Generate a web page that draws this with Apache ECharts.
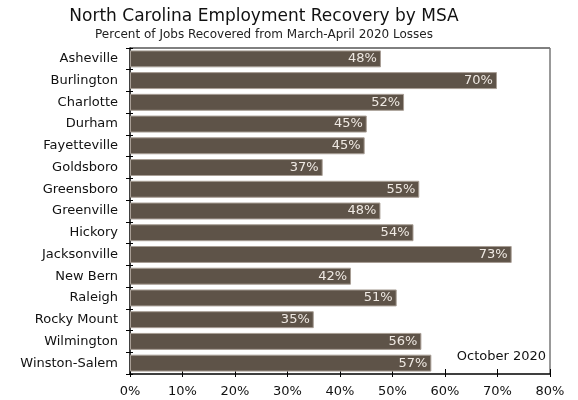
<!DOCTYPE html>
<html>
<head>
<meta charset="utf-8">
<script src="https://cdn.jsdelivr.net/npm/echarts@6/dist/echarts.min.js"></script>
<style>
  html, body { margin: 0; padding: 0; background: #ffffff; }
  #chart { width: 578px; height: 400px; }
</style>
</head>
<body>
<div id="chart"></div>
<script>
// metro areas, top to bottom
var msaNames = ['Asheville', 'Burlington', 'Charlotte', 'Durham', 'Fayetteville', 'Goldsboro',
  'Greensboro', 'Greenville', 'Hickory', 'Jacksonville', 'New Bern', 'Raleigh',
  'Rocky Mount', 'Wilmington', 'Winston-Salem'];
// share of March-April 2020 job losses recovered, percent
var recovered = [47.8, 69.9, 52.2, 45.1, 44.7, 36.7, 55.1, 47.7, 54.0, 72.7, 42.1, 50.8, 35.0, 55.5, 57.4];
var xTicks = [0, 10, 20, 30, 40, 50, 60, 70, 80];

var font = 'DejaVu Sans, Verdana, sans-serif';
var myChart = echarts.init(document.getElementById('chart'));

var xBase = {
  type: 'value',
  min: xTicks[0], max: xTicks[xTicks.length - 1], interval: 10,
  splitLine: { show: false }
};

myChart.setOption({
  animation: false,
  grid: { left: 130, right: 28, top: 48, bottom: 26 },
  xAxis: [
    Object.assign({}, xBase, {
      axisLine: { show: true, lineStyle: { color: '#000', width: 1.5 } },
      axisTick: { show: true, inside: true, length: 5, lineStyle: { color: '#000' } },
      axisLabel: {
        formatter: '{value}%', margin: 11,
        fontFamily: font, fontSize: 13, color: '#111'
      }
    }),
    // tick stubs below the axis line
    Object.assign({}, xBase, {
      position: 'bottom',
      axisLine: { show: false },
      axisTick: { show: true, length: 3, lineStyle: { color: '#000' } },
      axisLabel: { show: false }
    })
  ],
  yAxis: [
    {
      type: 'category',
      data: msaNames,
      inverse: true,
      axisLine: { show: true, lineStyle: { color: '#000', width: 1.5 } },
      axisTick: { show: true, length: 4, lineStyle: { color: '#000' } },
      axisLabel: { margin: 12, fontFamily: font, fontSize: 13, color: '#111' }
    },
    {
      type: 'category',
      data: msaNames,
      inverse: true,
      position: 'left',
      axisLine: { show: false },
      axisTick: { show: true, inside: true, length: 3, lineStyle: { color: '#000' } },
      axisLabel: { show: false }
    }
  ],
  graphic: [
    {
      type: 'text', x: 264, y: 8,
      style: {
        text: 'North Carolina Employment Recovery by MSA', align: 'center',
        fontFamily: font, fontSize: 17, fill: '#111'
      }
    },
    {
      type: 'text', x: 264, y: 29,
      style: {
        text: 'Percent of Jobs Recovered from March-April 2020 Losses', align: 'center',
        fontFamily: font, fontSize: 12, fill: '#222'
      }
    },
    // top and right frame lines
    { type: 'line', shape: { x1: 130, y1: 48, x2: 550, y2: 48 }, style: { stroke: '#000', lineWidth: 1 } },
    { type: 'line', shape: { x1: 550, y1: 48, x2: 550, y2: 374 }, style: { stroke: '#777', lineWidth: 1.5 } },
    {
      type: 'text', right: 32, top: 350,
      style: { text: 'October 2020', fontFamily: font, fontSize: 13, fill: '#111' }
    }
  ],
  series: [
    {
      type: 'bar',
      data: recovered,
      barCategoryGap: '22%',
      itemStyle: { color: '#5e5348', borderColor: '#a89e95', borderWidth: 1 },
      label: {
        show: true, position: 'insideRight', distance: 4,
        formatter: function (p) { return Math.round(p.value) + '%'; },
        fontFamily: font, fontSize: 13, color: '#efe9e3'
      }
    }
  ]
});
</script>
</body>
</html>
